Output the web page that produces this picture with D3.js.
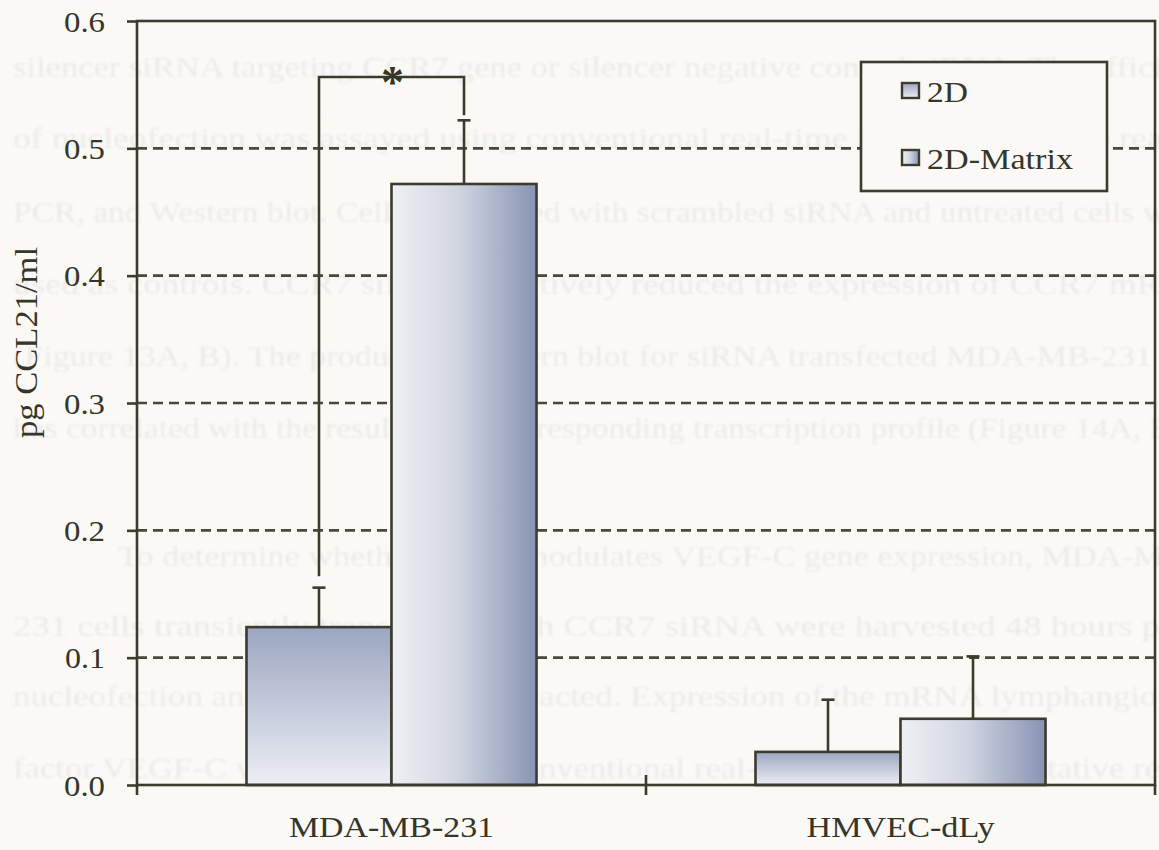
<!DOCTYPE html>
<html>
<head>
<meta charset="utf-8">
<script src="https://cdn.jsdelivr.net/npm/d3@7"></script>
<style>
  html, body { margin: 0; padding: 0; background: #faf9f6; }
  svg { display: block; }
</style>
</head>
<body>
<svg id="chart" width="1159" height="850"></svg>
<script>
// CCL21 secretion (pg/ml) by cell line, grown in 2D or on 2D-Matrix
const categories = ["MDA-MB-231", "HMVEC-dLy"];
const seriesNames = ["2D", "2D-Matrix"];
const values2D = [0.124, 0.026];
const valuesMatrix = [0.472, 0.052];
const error2D = [0.031, 0.041];
const errorMatrix = [0.050, 0.049];
const yTicks = [0, 0.1, 0.2, 0.3, 0.4, 0.5, 0.6];
const yLabel = "pg CCL21/ml";
// significance bracket over the MDA-MB-231 pair (data units)
const sigGroup = "MDA-MB-231";
const sigTop = 0.556;
const sigLeftEnd = 0.164;
const sigRightEnd = 0.526;
const sigMark = "*";

// body text of the page, printed faintly behind the figure
const pageLines = [
  "silencer siRNA targeting CCR7 gene or silencer negative control siRNA. The efficiency",
  "of nucleofection was assayed using conventional real-time PCR, quantitative real-time",
  "PCR, and Western blot. Cells transfected with scrambled siRNA and untreated cells were",
  "used as controls. CCR7 siRNA effectively reduced the expression of CCR7 mRNA",
  "(Figure 13A, B). The product of Western blot for siRNA transfected MDA-MB-231 cells",
  "has correlated with the result of the corresponding transcription profile (Figure 14A, B).",
  "",
  "To determine whether CCR7 modulates VEGF-C gene expression, MDA-MB-",
  "231 cells transiently transfected with CCR7 siRNA were harvested 48 hours post",
  "nucleofection and total RNA was extracted. Expression of the mRNA lymphangiogenic",
  "factor VEGF-C was determined by conventional real-time PCR and quantitative real-time"
];
const pageBaselines = [77, 148, 222, 294, 366, 438, 0, 566, 636, 706, 778];
const pageLengths = [1215, 1235, 1195, 1200, 1210, 1178, 0, 1080, 1190, 1220, 1245];

const data = categories.map((c, i) => ({
  category: c,
  bars: [
    { series: seriesNames[0], value: values2D[i], err: error2D[i] },
    { series: seriesNames[1], value: valuesMatrix[i], err: errorMatrix[i] }
  ]
}));

const ink = "#3b3b2e";
const textInk = "#35352a";
const serif = "'Liberation Serif', Tinos, 'Times New Roman', Times, 'Nimbus Roman', FreeSerif, serif";

// rendered widths of the labels, so the type keeps its proportions
const labelWidth = {
  "0.0": 41, "0.1": 40, "0.2": 41, "0.3": 41, "0.4": 41, "0.5": 41, "0.6": 41,
  "MDA-MB-231": 205, "HMVEC-dLy": 188, "2D": 41, "2D-Matrix": 146
};

const svg = d3.select("#chart");
const W = 1159, H = 850;
const plot = { left: 137, right: 1155, top: 21, bottom: 785 };

svg.append("rect").attr("width", W).attr("height", H).attr("fill", "#faf9f6");

// gradients
const defs = svg.append("defs");
const g2d = defs.append("linearGradient").attr("id", "fill2D")
  .attr("x1", 0).attr("y1", 0).attr("x2", 0).attr("y2", 1);
g2d.append("stop").attr("offset", "0%").attr("stop-color", "#9ca6c1");
g2d.append("stop").attr("offset", "100%").attr("stop-color", "#eceef4");
const gMat = defs.append("linearGradient").attr("id", "fillMatrix")
  .attr("x1", 0).attr("y1", 0).attr("x2", 1).attr("y2", 0);
gMat.append("stop").attr("offset", "0%").attr("stop-color", "#eff0f4");
gMat.append("stop").attr("offset", "45%").attr("stop-color", "#d2d6e2");
gMat.append("stop").attr("offset", "100%").attr("stop-color", "#8794b3");
const fills = { "2D": "url(#fill2D)", "2D-Matrix": "url(#fillMatrix)" };

const soft = defs.append("filter").attr("id", "soft");
soft.append("feGaussianBlur").attr("stdDeviation", 0.9);

// faint page text
const pageG = svg.append("g").attr("filter", "url(#soft)")
  .attr("font-family", serif).attr("font-size", 29).attr("fill", "#ecebe7");
pageLines.forEach((t, i) => {
  if (!t) return;
  pageG.append("text")
    .attr("x", i === 7 ? 118 : 13).attr("y", pageBaselines[i])
    .attr("textLength", pageLengths[i])
    .attr("lengthAdjust", "spacingAndGlyphs")
    .text(t);
});

// scales
const x0 = d3.scaleBand().domain(categories).range([plot.left, plot.right]).padding(0);
const x1 = d3.scaleBand().domain(seriesNames).range([0, x0.bandwidth()])
  .paddingInner(0).paddingOuter(0.755);
const y = d3.scaleLinear().domain([0, 0.6]).range([plot.bottom, plot.top]);

// dashed gridlines
svg.append("g").selectAll("line")
  .data(yTicks.filter(d => d > 0 && d < 0.6))
  .join("line")
  .attr("x1", plot.left).attr("x2", plot.right)
  .attr("y1", d => y(d)).attr("y2", d => y(d))
  .attr("stroke", "#47473a").attr("stroke-width", 2.6)
  .attr("stroke-dasharray", "10,6");

// bars
const groups = svg.append("g").selectAll("g")
  .data(data).join("g")
  .attr("transform", d => `translate(${x0(d.category)},0)`);

groups.selectAll("rect")
  .data(d => d.bars).join("rect")
  .attr("x", d => x1(d.series))
  .attr("y", d => y(d.value))
  .attr("width", x1.bandwidth())
  .attr("height", d => y(0) - y(d.value))
  .attr("fill", d => fills[d.series])
  .attr("stroke", ink).attr("stroke-width", 2.6);

// error bars (upper whisker only)
const capHalf = 6.5;
groups.selectAll("g.err")
  .data(d => d.bars).join("g").attr("class", "err")
  .each(function (d) {
    const cx = x1(d.series) + x1.bandwidth() / 2;
    const g = d3.select(this);
    g.append("line")
      .attr("x1", cx).attr("x2", cx)
      .attr("y1", y(d.value)).attr("y2", y(d.value + d.err))
      .attr("stroke", ink).attr("stroke-width", 2.6);
    g.append("line")
      .attr("x1", cx - capHalf).attr("x2", cx + capHalf)
      .attr("y1", y(d.value + d.err)).attr("y2", y(d.value + d.err))
      .attr("stroke", ink).attr("stroke-width", 2.6);
  });

// significance bracket
const bx1 = x0(sigGroup) + x1(seriesNames[0]) + x1.bandwidth() / 2;
const bx2 = x0(sigGroup) + x1(seriesNames[1]) + x1.bandwidth() / 2;
svg.append("path")
  .attr("d", `M${bx1},${y(sigLeftEnd)} V${y(sigTop)} H${bx2} V${y(sigRightEnd)}`)
  .attr("fill", "none").attr("stroke", ink).attr("stroke-width", 2.6);
svg.append("text")
  .attr("x", (bx1 + bx2) / 2 + 1).attr("y", y(sigTop) + 21)
  .attr("text-anchor", "middle")
  .attr("font-family", serif).attr("font-weight", "bold").attr("font-size", 46)
  .attr("fill", textInk)
  .text(sigMark);

// y axis
const yAxis = svg.append("g")
  .attr("transform", `translate(${plot.left},0)`)
  .call(d3.axisLeft(y).tickValues(yTicks).tickFormat(d3.format(".1f")).tickSize(10));
yAxis.select(".domain").remove();
yAxis.selectAll(".tick line").attr("stroke", ink).attr("stroke-width", 2.6);
yAxis.selectAll(".tick text")
  .attr("x", -32).attr("dy", "0.34em")
  .attr("text-anchor", "end")
  .attr("textLength", d => labelWidth[d3.format(".1f")(d)])
  .attr("lengthAdjust", "spacingAndGlyphs")
  .attr("font-family", serif).attr("font-size", 30).attr("fill", textInk);

// x axis: category labels at band centres, ticks at band edges
const xAxis = svg.append("g")
  .attr("transform", `translate(0,${plot.bottom})`)
  .call(d3.axisBottom(x0).tickSize(0));
xAxis.select(".domain").remove();
xAxis.selectAll(".tick text")
  .attr("y", 52).attr("dy", 0)
  .attr("textLength", d => labelWidth[d])
  .attr("lengthAdjust", "spacingAndGlyphs")
  .attr("font-family", serif).attr("font-size", 30).attr("fill", textInk);
const edges = [plot.left, ...categories.map(c => x0(c) + x0.bandwidth())];
svg.append("g").selectAll("line")
  .data(edges).join("line")
  .attr("x1", d => d).attr("x2", d => d)
  .attr("y1", (d, i) => (i === 1 ? plot.bottom - 10 : plot.bottom))
  .attr("y2", plot.bottom + 10)
  .attr("stroke", ink).attr("stroke-width", 2.6);

// frame
svg.append("rect")
  .attr("x", plot.left).attr("y", plot.top)
  .attr("width", plot.right - plot.left).attr("height", plot.bottom - plot.top)
  .attr("fill", "none").attr("stroke", ink).attr("stroke-width", 2.6);

// y title
svg.append("text")
  .attr("transform", `translate(37,${(247 + 438) / 2}) rotate(-90)`)
  .attr("text-anchor", "middle")
  .attr("textLength", 191).attr("lengthAdjust", "spacingAndGlyphs")
  .attr("font-family", serif).attr("font-size", 32).attr("fill", textInk)
  .text(yLabel);

// legend
const legend = svg.append("g").attr("transform", "translate(861,62)");
legend.append("rect")
  .attr("width", 246).attr("height", 129)
  .attr("fill", "#faf9f6").attr("stroke", ink).attr("stroke-width", 2.6);
const items = legend.selectAll("g.item")
  .data(seriesNames).join("g").attr("class", "item")
  .attr("transform", (d, i) => `translate(41,${21 + i * 67})`);
items.append("rect")
  .attr("width", 17).attr("height", 15)
  .attr("fill", d => fills[d])
  .attr("stroke", ink).attr("stroke-width", 2.4);
items.append("text")
  .attr("x", 25).attr("y", 19)
  .attr("textLength", d => labelWidth[d])
  .attr("lengthAdjust", "spacingAndGlyphs")
  .attr("font-family", serif).attr("font-size", 30).attr("fill", textInk)
  .text(d => d);
</script>
</body>
</html>
